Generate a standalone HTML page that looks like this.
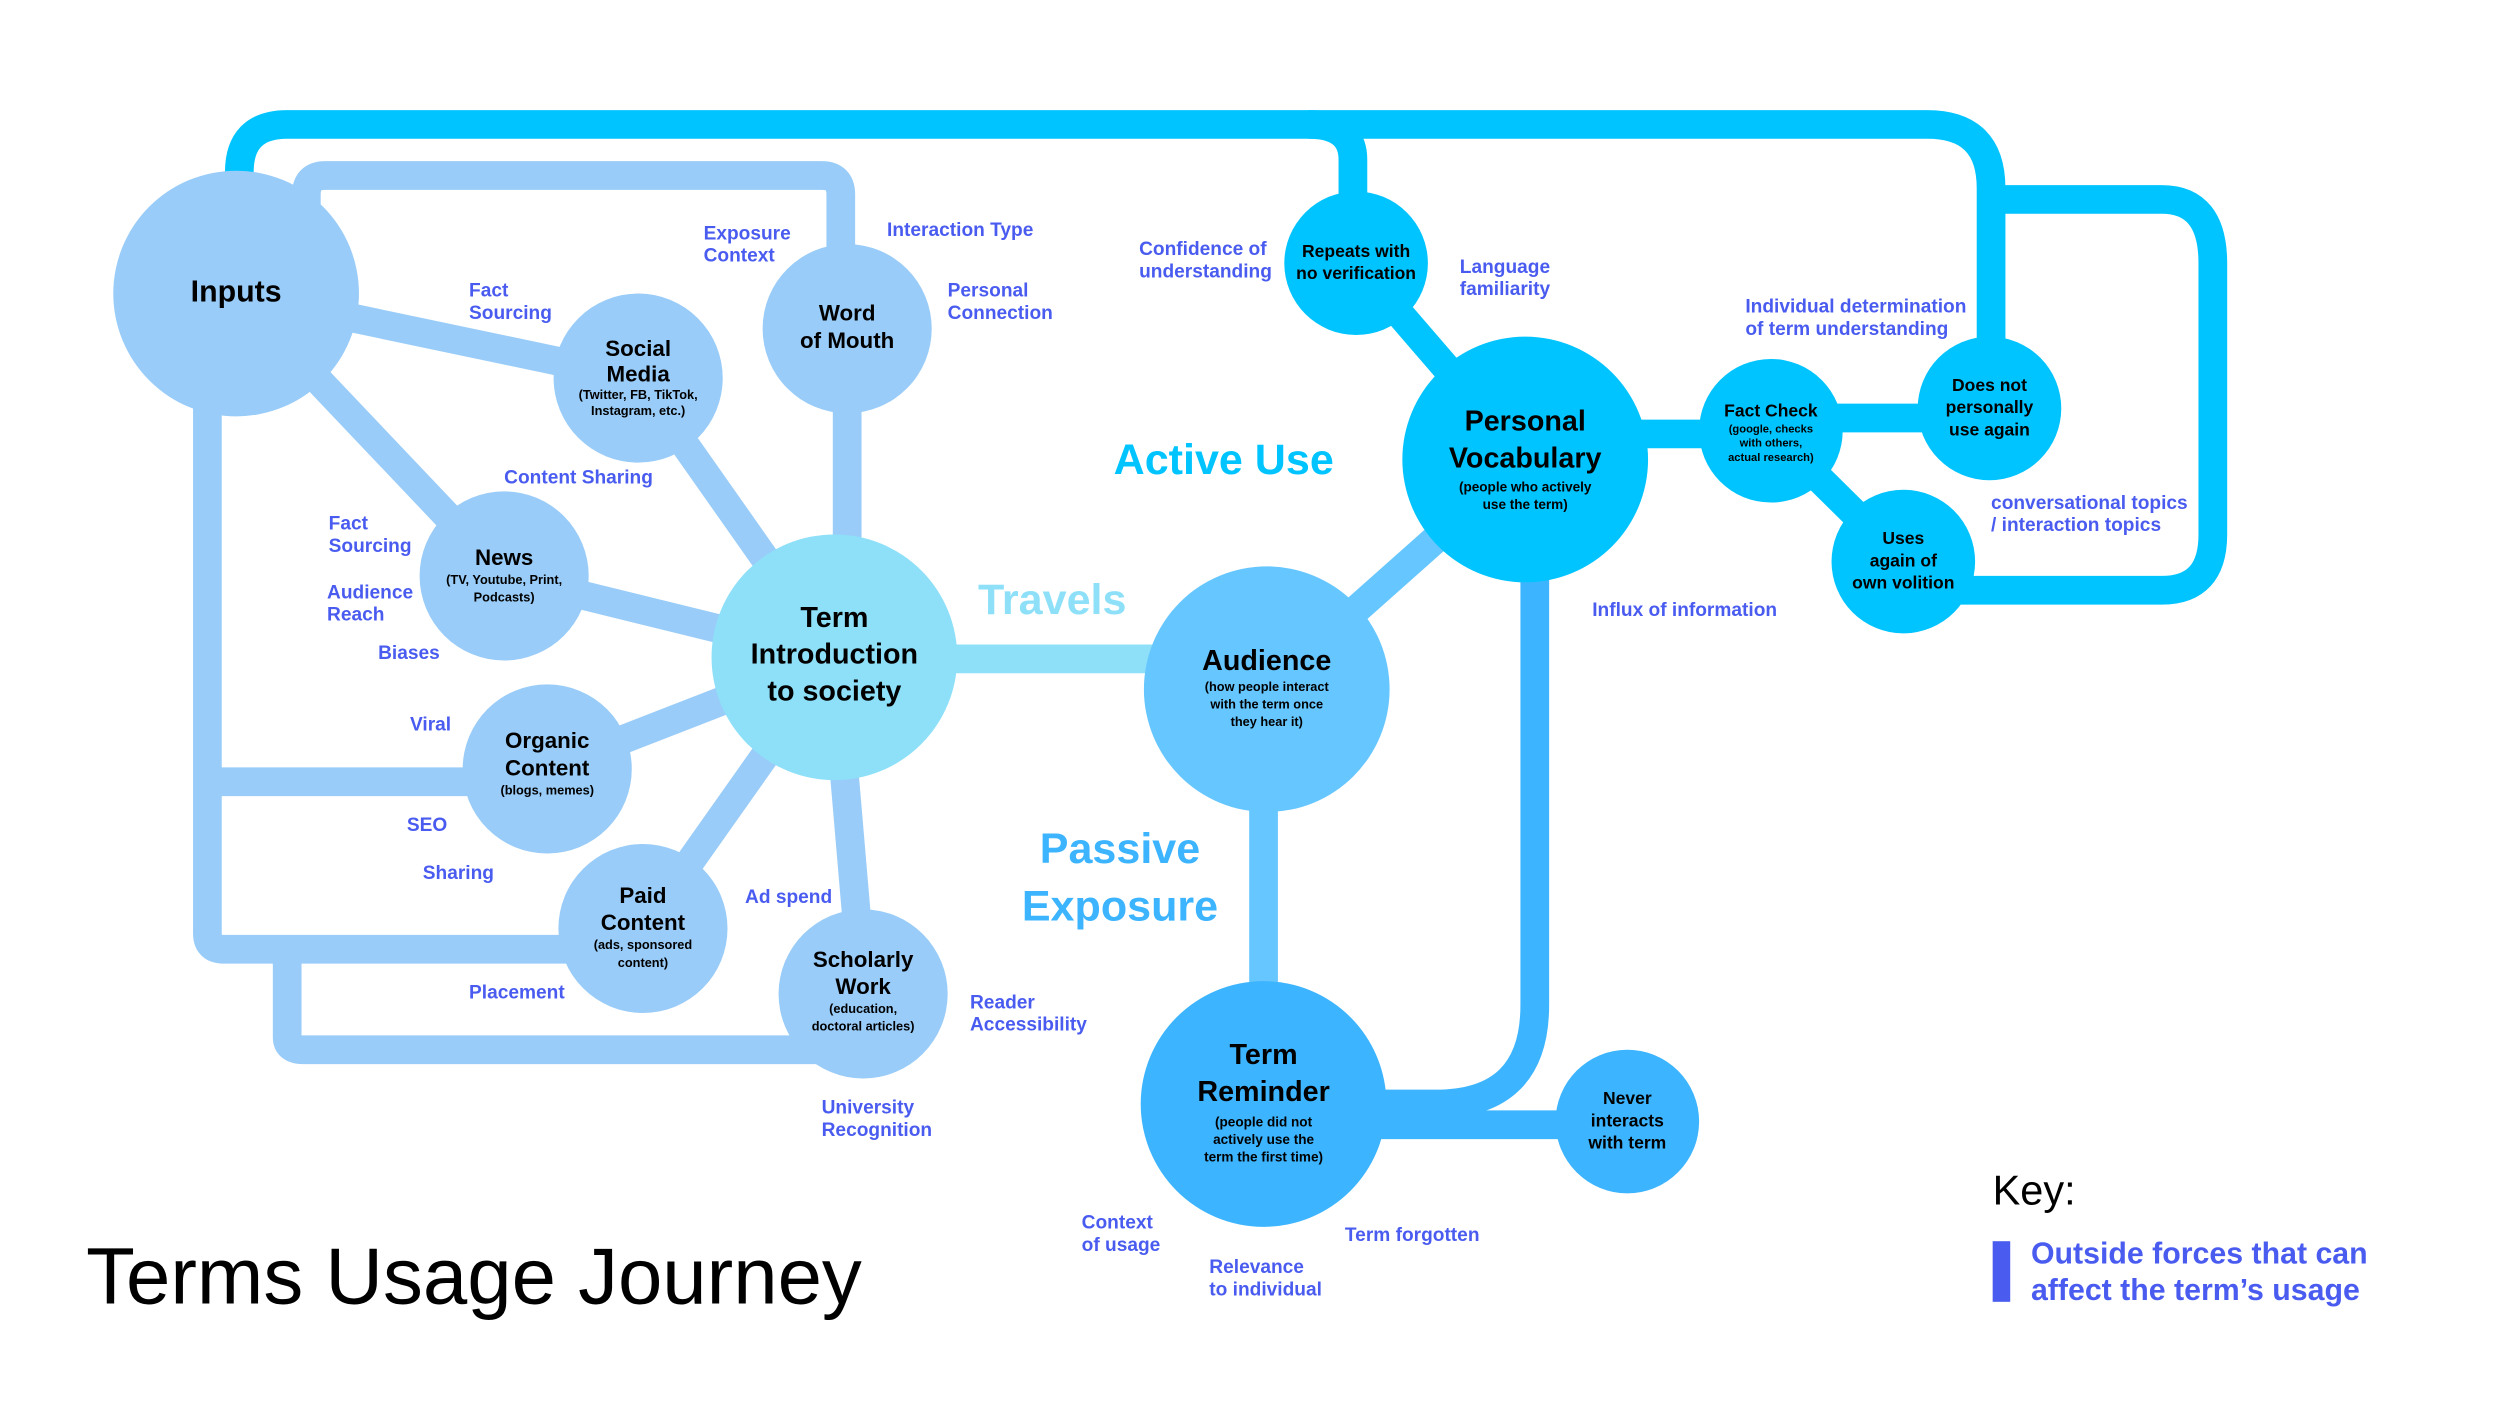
<!DOCTYPE html>
<html><head><meta charset="utf-8"><style>
html,body{margin:0;padding:0;background:#fff;}
svg{display:block;}
text{font-family:"Liberation Sans",sans-serif;}
.l{fill:#4a5cf0;font-size:12px;font-weight:bold;}
.n{fill:#000;font-weight:bold;text-anchor:middle;}
</style></head><body>
<svg width="2500" height="1406" viewBox="0 0 1567 881.3" preserveAspectRatio="none" xmlns="http://www.w3.org/2000/svg">
<g fill="none" stroke-linejoin="round">
<g stroke="#99ccf8" stroke-width="18">
<path d="M192 130 V122 Q192 110 204 110 H515 Q527 110 527 122 V160"/>
<path d="M130 240 V585 Q130 595 140 595 H360"/>
<path d="M130 490 H300"/>
<path d="M180 600 V650 Q180 658 190 658 H541"/>
<path d="M148 184 L400 237"/>
<path d="M148 184 L316 361"/>
<path d="M400 237 L523 412"/>
<path d="M531 206 V412"/>
<path d="M316 361 L523 412"/>
<path d="M343 482 L523 412"/>
<path d="M403 582 L523 412"/>
<path d="M541 623 L523 412"/>
</g>
<path d="M523 413 H794" stroke="#8ee0f9" stroke-width="18"/>
<g stroke="#66c6ff" stroke-width="18">
<path d="M794 432 L956 288"/>
<path d="M792 432 V692"/>
</g>
<g stroke="#3cb4ff" stroke-width="18">
<path d="M962 300 V630 Q962 692 900 692 H860"/>
<path d="M792 705 H1020"/>
</g>
<g stroke="#00c4ff" stroke-width="18">
<path d="M150 130 V108 Q150 78 180 78 H1208 Q1248 78 1248 118 V256"/>
<path d="M820 78 Q848 78 848 100 V165"/>
<path d="M1248 125 H1355 Q1387 125 1387 165 V335 Q1387 370 1355 370 H1193"/>
<path d="M850 165 L956 288"/>
<path d="M956 272 H1110"/>
<path d="M1110 262 H1247"/>
<path d="M1110 270 L1193 352"/>
</g>
</g>
<g fill="#99ccf8">
<circle cx="148" cy="184" r="77"/>
<circle cx="400" cy="237" r="53"/>
<circle cx="531" cy="206" r="53"/>
<circle cx="316" cy="361" r="53"/>
<circle cx="343" cy="482" r="53"/>
<circle cx="403" cy="582" r="53"/>
<circle cx="541" cy="623" r="53"/>
</g>
<circle cx="523" cy="412" r="77" fill="#8ee0f9"/>
<circle cx="794" cy="432" r="77" fill="#66c6ff"/>
<circle cx="792" cy="692" r="77" fill="#3cb4ff"/>
<circle cx="1020" cy="703" r="45" fill="#3cb4ff"/>
<g fill="#00c4ff">
<circle cx="956" cy="288" r="77"/>
<circle cx="850" cy="165" r="45"/>
<circle cx="1110" cy="270" r="45"/>
<circle cx="1247" cy="256" r="45"/>
<circle cx="1193" cy="352" r="45"/>
</g>
<text class="n" x="148" y="189" font-size="19">Inputs</text>
<text class="n" x="400" y="223" font-size="14">Social</text>
<text class="n" x="400" y="239" font-size="14">Media</text>
<text class="n" x="400" y="250" font-size="8">(Twitter, FB, TikTok,</text>
<text class="n" x="400" y="260" font-size="8">Instagram, etc.)</text>
<text class="n" x="531" y="201" font-size="14">Word</text>
<text class="n" x="531" y="218" font-size="14">of Mouth</text>
<text class="n" x="316" y="354" font-size="14">News</text>
<text class="n" x="316" y="366" font-size="8">(TV, Youtube, Print,</text>
<text class="n" x="316" y="377" font-size="8">Podcasts)</text>
<text class="n" x="343" y="469" font-size="14">Organic</text>
<text class="n" x="343" y="486" font-size="14">Content</text>
<text class="n" x="343" y="498" font-size="8">(blogs, memes)</text>
<text class="n" x="403" y="566" font-size="14">Paid</text>
<text class="n" x="403" y="583" font-size="14">Content</text>
<text class="n" x="403" y="595" font-size="8">(ads, sponsored</text>
<text class="n" x="403" y="606" font-size="8">content)</text>
<text class="n" x="541" y="606" font-size="14">Scholarly</text>
<text class="n" x="541" y="623" font-size="14">Work</text>
<text class="n" x="541" y="635" font-size="8">(education,</text>
<text class="n" x="541" y="646" font-size="8">doctoral articles)</text>
<text class="n" x="523" y="393" font-size="18">Term</text>
<text class="n" x="523" y="416" font-size="18">Introduction</text>
<text class="n" x="523" y="439" font-size="18">to society</text>
<text class="n" x="794" y="420" font-size="18">Audience</text>
<text class="n" x="794" y="433" font-size="8">(how people interact</text>
<text class="n" x="794" y="444" font-size="8">with the term once</text>
<text class="n" x="794" y="455" font-size="8">they hear it)</text>
<text class="n" x="792" y="667" font-size="18">Term</text>
<text class="n" x="792" y="690" font-size="18">Reminder</text>
<text class="n" x="792" y="706" font-size="8.5">(people did not</text>
<text class="n" x="792" y="717" font-size="8.5">actively use the</text>
<text class="n" x="792" y="728" font-size="8.5">term the first time)</text>
<text class="n" x="1020" y="692" font-size="11">Never</text>
<text class="n" x="1020" y="706" font-size="11">interacts</text>
<text class="n" x="1020" y="720" font-size="11">with term</text>
<text class="n" x="956" y="270" font-size="18">Personal</text>
<text class="n" x="956" y="293" font-size="18">Vocabulary</text>
<text class="n" x="956" y="308" font-size="8.5">(people who actively</text>
<text class="n" x="956" y="319" font-size="8.5">use the term)</text>
<text class="n" x="850" y="161" font-size="11">Repeats with</text>
<text class="n" x="850" y="175" font-size="11">no verification</text>
<text class="n" x="1110" y="261" font-size="11">Fact Check</text>
<text class="n" x="1110" y="271" font-size="7">(google, checks</text>
<text class="n" x="1110" y="280" font-size="7">with others,</text>
<text class="n" x="1110" y="289" font-size="7">actual research)</text>
<text class="n" x="1247" y="245" font-size="11">Does not</text>
<text class="n" x="1247" y="259" font-size="11">personally</text>
<text class="n" x="1247" y="273" font-size="11">use again</text>
<text class="n" x="1193" y="341" font-size="11">Uses</text>
<text class="n" x="1193" y="355" font-size="11">again of</text>
<text class="n" x="1193" y="369" font-size="11">own volition</text>
<text x="698" y="297" font-size="27" font-weight="bold" fill="#00c4ff">Active Use</text>
<text x="613" y="385" font-size="27" font-weight="bold" fill="#8ee0f9">Travels</text>
<text x="702" y="541" font-size="27" font-weight="bold" fill="#3cb4ff" text-anchor="middle">Passive</text>
<text x="702" y="577" font-size="27" font-weight="bold" fill="#3cb4ff" text-anchor="middle">Exposure</text>
<g class="l">
<text x="441" y="150">Exposure</text><text x="441" y="164">Context</text>
<text x="556" y="148">Interaction Type</text>
<text x="594" y="186">Personal</text><text x="594" y="200">Connection</text>
<text x="294" y="186">Fact</text><text x="294" y="200">Sourcing</text>
<text x="316" y="303">Content Sharing</text>
<text x="206" y="332">Fact</text><text x="206" y="346">Sourcing</text>
<text x="205" y="375">Audience</text><text x="205" y="389">Reach</text>
<text x="237" y="413">Biases</text>
<text x="257" y="458">Viral</text>
<text x="255" y="521">SEO</text>
<text x="265" y="551">Sharing</text>
<text x="467" y="566">Ad spend</text>
<text x="294" y="626">Placement</text>
<text x="608" y="632">Reader</text><text x="608" y="646">Accessibility</text>
<text x="515" y="698">University</text><text x="515" y="712">Recognition</text>
<text x="714" y="160">Confidence of</text><text x="714" y="174">understanding</text>
<text x="915" y="171">Language</text><text x="915" y="185">familiarity</text>
<text x="1094" y="196">Individual determination</text><text x="1094" y="210">of term understanding</text>
<text x="1248" y="319">conversational topics</text><text x="1248" y="333">/ interaction topics</text>
<text x="998" y="386">Influx of information</text>
<text x="678" y="770">Context</text><text x="678" y="784">of usage</text>
<text x="758" y="798">Relevance</text><text x="758" y="812">to individual</text>
<text x="843" y="778">Term forgotten</text>
</g>
<text x="54" y="817" font-size="50" fill="#000">Terms Usage Journey</text>
<text x="1249" y="755" font-size="26" fill="#000">Key:</text>
<rect x="1249" y="778" width="11" height="38" fill="#4a5cf0"/>
<text x="1273" y="792" font-size="19" font-weight="bold" fill="#4a5cf0">Outside forces that can</text>
<text x="1273" y="815" font-size="19" font-weight="bold" fill="#4a5cf0">affect the term’s usage</text>
</svg>
</body></html>
